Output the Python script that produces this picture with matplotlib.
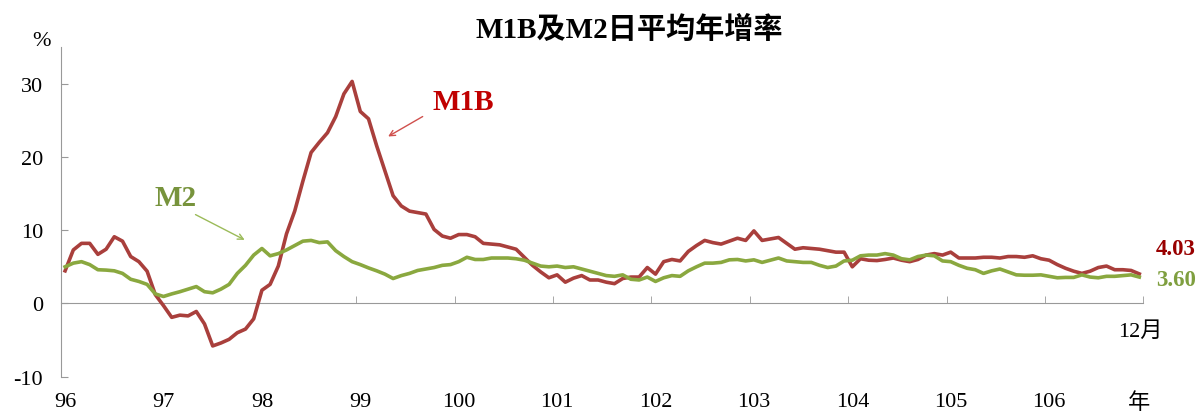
import numpy as np
import matplotlib.pyplot as plt

# monthly data, 96/01 .. 106/12 (ROC years)
years = ['96', '97', '98', '99', '100', '101', '102', '103', '104', '105', '106']

m1b = [4.45, 7.3, 8.2, 8.2, 6.7, 7.4, 9.1, 8.5, 6.4, 5.7, 4.4, 1.2,
       -0.3, -1.9, -1.6, -1.7, -1.1, -2.8, -5.8, -5.4, -4.9, -4.0, -3.5, -2.1,
       1.8, 2.6, 5.1, 9.5, 12.6, 16.7, 20.6, 22.0, 23.3, 25.5, 28.6, 30.3,
       26.2, 25.2, 21.5, 18.1, 14.7, 13.3, 12.6, 12.4, 12.2, 10.1, 9.2, 8.9,
       9.4, 9.4, 9.1, 8.2, 8.1, 8.0, 7.7, 7.4, 6.3, 5.2, 4.3, 3.5,
       3.9, 2.9, 3.45, 3.8, 3.2, 3.2, 2.9, 2.7, 3.4, 3.6, 3.6, 4.9,
       4.0, 5.7, 6.0, 5.8, 7.1, 7.9, 8.6, 8.3, 8.1, 8.5, 8.9, 8.6,
       9.9, 8.6, 8.8, 9.0, 8.2, 7.4, 7.6, 7.5, 7.4, 7.2, 7.0, 7.0,
       5.0, 6.1, 5.9, 5.85, 6.0, 6.2, 5.9, 5.7, 6.0, 6.6, 6.8, 6.6,
       7.0, 6.2, 6.2, 6.2, 6.3, 6.3, 6.2, 6.4, 6.4, 6.3, 6.5, 6.1,
       5.9, 5.3, 4.8, 4.4, 4.1, 4.4, 4.9, 5.1, 4.6, 4.6, 4.5, 4.03]

m2 = [5.0, 5.5, 5.7, 5.3, 4.6, 4.55, 4.45, 4.1, 3.3, 3.0, 2.6, 1.3,
      0.95, 1.3, 1.6, 1.95, 2.3, 1.6, 1.45, 1.95, 2.6, 4.1, 5.2, 6.6,
      7.5, 6.5, 6.8, 7.3, 7.9, 8.5, 8.6, 8.3, 8.4, 7.2, 6.4, 5.7,
      5.3, 4.85, 4.45, 4.0, 3.4, 3.8, 4.1, 4.5, 4.7, 4.9, 5.2, 5.3,
      5.7, 6.3, 6.0, 6.0, 6.2, 6.2, 6.2, 6.1, 5.9, 5.5, 5.1, 5.0,
      5.1, 4.9, 5.0, 4.7, 4.4, 4.1, 3.8, 3.7, 3.9, 3.3, 3.2, 3.6,
      3.0, 3.5, 3.8, 3.7, 4.45, 5.0, 5.5, 5.5, 5.6, 5.95, 6.0, 5.8,
      5.95, 5.6, 5.9, 6.2, 5.8, 5.7, 5.6, 5.6, 5.2, 4.9, 5.1, 5.8,
      5.9, 6.5, 6.6, 6.6, 6.8, 6.6, 6.1, 5.95, 6.4, 6.6, 6.5, 5.8,
      5.7, 5.2, 4.8, 4.6, 4.1, 4.45, 4.7, 4.3, 3.9, 3.85, 3.85, 3.9,
      3.7, 3.5, 3.55, 3.55, 3.9, 3.6, 3.5, 3.7, 3.7, 3.8, 3.9, 3.60]

red = '#A93F3C'
green = '#8AA83F'
serif = ['Liberation Serif', 'Noto Sans CJK TC']

plt.rcParams['font.family'] = serif
plt.rcParams['axes.unicode_minus'] = False

fig = plt.figure(figsize=(11.99, 4.14), dpi=100)
ax = fig.add_axes([61 / 1199, 36.3 / 414, 1082.4 / 1199, 329.7 / 414])

x = np.arange(len(m1b))
ax.plot(x, m1b, color=red, lw=2.6, solid_joinstyle='round', zorder=3)
ax.plot(x, m2, color=green, lw=2.6, solid_joinstyle='round', zorder=3)

ax.set_xlim(-0.5, len(m1b) - 0.5)
ax.set_ylim(-10, 35)
ax.set_yticks([-10, 0, 10, 20, 30])

for s in ['top', 'right']:
    ax.spines[s].set_visible(False)
ax.spines['bottom'].set_position(('data', 0))
ax.spines['bottom'].set_color('#999999')
ax.spines['left'].set_color('#999999')

# year labels on first month, "年" on last month; tick marks at year boundaries
ax.set_xticks(list(range(0, 132, 12)) + [131])
ax.set_xticklabels(years + ['年'])
ax.set_xticks(np.arange(-0.5, 132, 12), minor=True)
ax.tick_params(axis='x', which='major', length=0, pad=64, labelsize=16)
ax.tick_params(axis='x', which='minor', direction='in', length=5, color='#999999')
ax.tick_params(axis='y', direction='in', length=5, color='#999999', pad=13, labelsize=16)

fig.text(42 / 1199, 1 - 42 / 414, '%', fontsize=16, ha='center', va='center')
fig.text(629 / 1199, 1 - 30 / 414, 'M1B及M2日平均年增率', fontsize=21, fontweight='bold',
         ha='center', va='center')

ax.text(131.1, -3.8, '12月', fontsize=16, ha='center', va='center')

ax.text(48.6, 27.6, 'M1B', fontsize=21, fontweight='bold', color='#C00000',
        ha='center', va='center')
ax.annotate('', xy=(39.1, 22.6), xytext=(43.9, 25.7),
            arrowprops=dict(arrowstyle='->', color='#D0504D', lw=1))
ax.text(13.5, 14.5, 'M2', fontsize=21, fontweight='bold', color='#77933C',
        ha='center', va='center')
ax.annotate('', xy=(22.2, 8.5), xytext=(15.6, 12.3),
            arrowprops=dict(arrowstyle='->', color='#9BBB59', lw=1))

ax.text(133.0, 7.5, f'{m1b[-1]:.2f}', fontsize=16.5, fontweight='bold', color='#990000',
        ha='left', va='center', clip_on=False)
ax.text(133.0, 3.2, f'{m2[-1]:.2f}', fontsize=16.5, fontweight='bold', color='#7F9F3F',
        ha='left', va='center', clip_on=False)

fig.savefig('out.png', dpi=100)
